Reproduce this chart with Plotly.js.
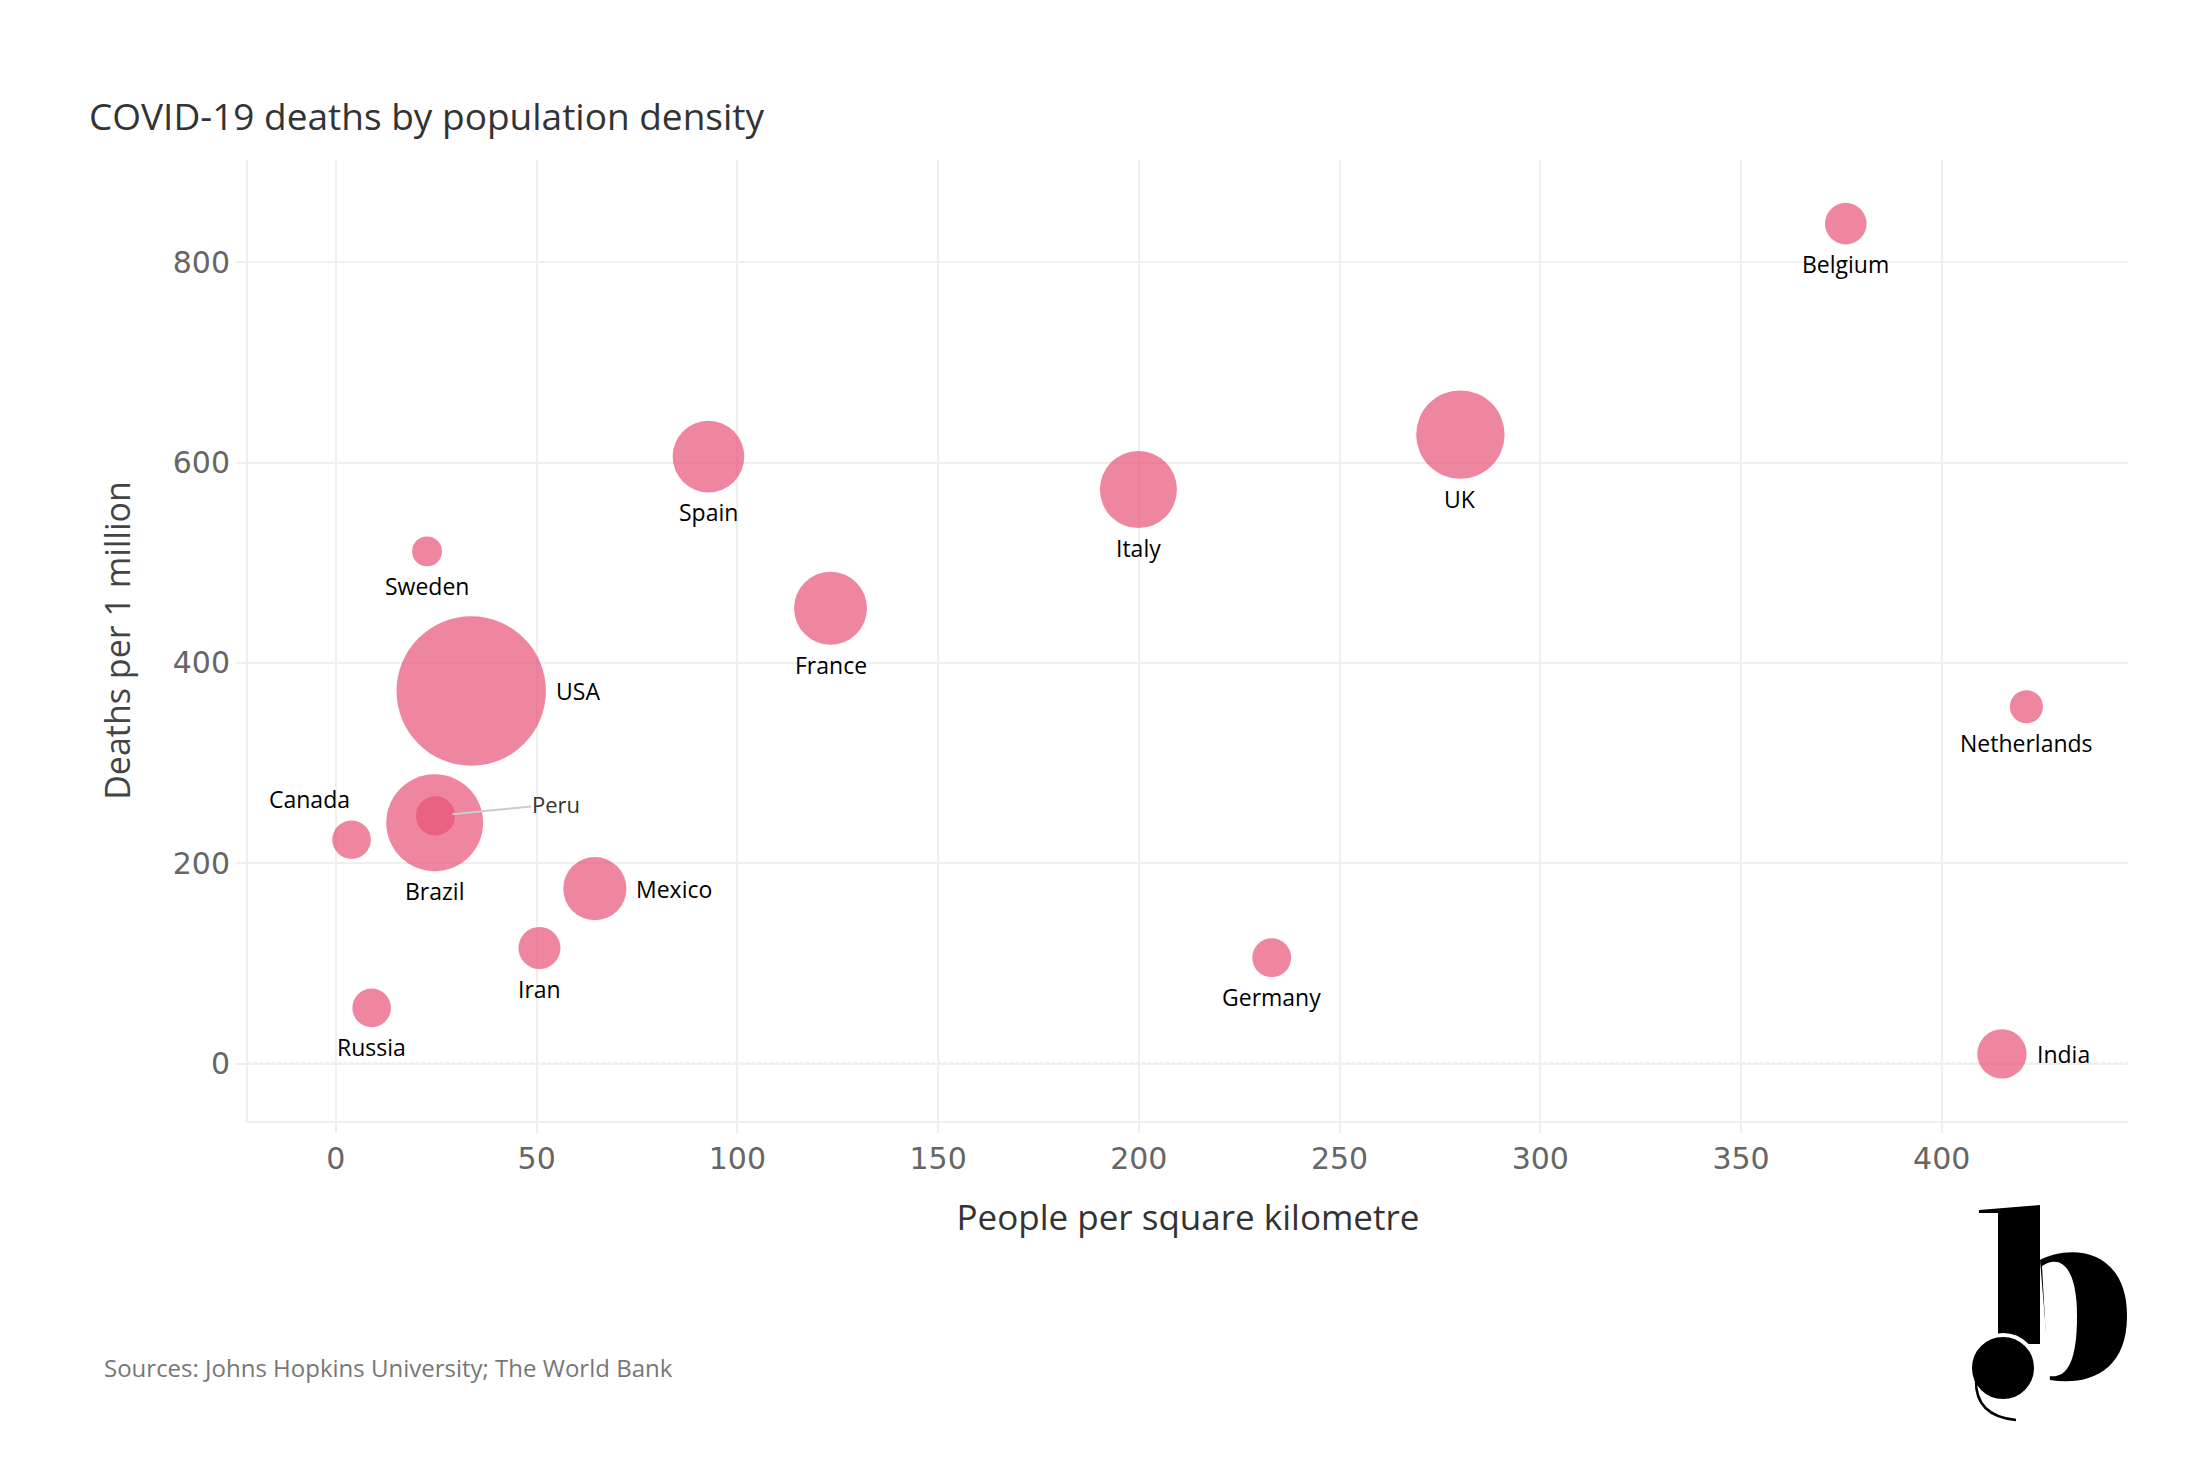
<!DOCTYPE html>
<html>
<head>
<meta charset="utf-8">
<script src="https://cdn.plot.ly/plotly-3.0.1.min.js"></script>
<style>html,body{margin:0;padding:0;background:#fff;}#chart{width:2208px;height:1472px;}</style>
</head>
<body>
<div id="chart"></div>
<script>
// ---- data ----
const countries = ['USA','Brazil','UK','Italy','France','Spain','Mexico','India','Iran','Belgium','Peru','Germany','Canada','Russia','Netherlands','Sweden'];
const density = [33.7, 24.6, 280.1, 199.9, 123.2, 92.8, 64.5, 415.0, 50.7, 376.1, 24.8, 233.1, 3.9, 8.9, 421.1, 22.7];
const deathsPerMillion = [371.9, 240.4, 627.9, 573.0, 454.5, 605.9, 174.7, 9.7, 115.4, 838.5, 247.3, 105.7, 223.5, 55.6, 356.2, 511.3];
const totalDeaths = [120000, 50400, 42000, 31900, 28600, 27600, 21500, 13100, 9500, 9300, 8300, 8100, 8000, 8000, 5900, 4800];
const labelSide = ['right','below','below','below','below','below','right','right','below','below','leader','below','aboveLeft','below','below','below'];
const xTicks = [0, 50, 100, 150, 200, 250, 300, 350, 400];
const yTicks = [0, 200, 400, 600, 800];

// ---- styling ----
const SIZEREF = 10.75;
const radius = v => Math.sqrt(v / 2 / SIZEREF);
const labelFont = {family: 'Open Sans, sans-serif', size: 23, color: '#000'};

const trace = {
  type: 'scatter', mode: 'markers',
  x: density, y: deathsPerMillion, text: countries,
  marker: {size: totalDeaths, sizemode: 'area', sizeref: SIZEREF,
           color: 'rgb(232,82,118)', opacity: 0.7, line: {width: 0}},
  hoverinfo: 'text', showlegend: false
};

const annotations = countries.map((c, i) => {
  const r = radius(totalDeaths[i]);
  const base = {x: density[i], y: deathsPerMillion[i], xref: 'x', yref: 'y', text: c,
                showarrow: false, font: labelFont};
  if (labelSide[i] === 'below') return Object.assign(base, {xanchor: 'center', yanchor: 'top', yshift: -(r + 2)});
  if (labelSide[i] === 'right') return Object.assign(base, {xanchor: 'left', yanchor: 'middle', xshift: r + 8});
  if (labelSide[i] === 'aboveLeft') return Object.assign(base, {xanchor: 'right', yanchor: 'bottom', xshift: 0, yshift: r + 3});
  return Object.assign(base, {showarrow: true, arrowhead: 0, arrowwidth: 2, arrowcolor: '#cccccc',
                              ax: 121, ay: -12, standoff: 17,
                              font: {family: 'Open Sans, sans-serif', size: 22, color: '#333'}});
});

annotations.push({
  xref: 'paper', yref: 'paper', x: -0.0777, y: -0.256, xanchor: 'left', yanchor: 'middle',
  text: 'Sources: Johns Hopkins University; The World Bank', showarrow: false,
  font: {family: 'Open Sans, sans-serif', size: 24, color: '#777'}
});

const logoSvg = "<svg xmlns='http://www.w3.org/2000/svg' viewBox='0 0 160 220' width='160' height='220'>" +
  "<path d='M70,56 C100,40 157,44 157,112 C157,168 118,182 80,176 Z' fill='#000'/>" +
  "<path d='M72,62 C90,50 107,62 107,112 C107,160 96,175 78,172 Z' fill='#fff'/>" +
  "<path d='M9,6 L70,1 L70,140 L28,140 L28,9 L9,9 Z' fill='#000'/>" +
  "<circle cx='33' cy='164' r='33' fill='#000' stroke='#fff' stroke-width='4'/>" +
  "<path d='M6,176 Q5,212 46,216' fill='none' stroke='#000' stroke-width='2.5'/>" +
  "</svg>";

const axisCommon = {
  showgrid: true, gridcolor: '#efefef', gridwidth: 2,
  zeroline: false, showline: true, linecolor: '#eeeeee', linewidth: 2,
  ticks: 'outside', ticklen: 10, tickcolor: '#eeeeee', tickwidth: 2,
  tickfont: {family: 'DejaVu Sans, sans-serif', size: 30, color: '#666'},
  tickmode: 'array'
};

const layout = {
  width: 2208, height: 1472,
  margin: {l: 248, r: 80, t: 160, b: 351},
  paper_bgcolor: '#fff', plot_bgcolor: '#fff',
  title: {text: 'COVID-19 deaths by population density', x: 0.0403, xref: 'container', xanchor: 'left',
          y: 1 - 117 / 1472, yref: 'container', yanchor: 'middle',
          font: {family: 'Open Sans, sans-serif', size: 37, color: '#333'}},
  xaxis: Object.assign({}, axisCommon, {
    range: [-21.9, 446.4], tickvals: xTicks, ticktext: xTicks.map(String),
    title: {text: 'People per square kilometre', standoff: 30,
            font: {family: 'Open Sans, sans-serif', size: 35, color: '#333'}}
  }),
  yaxis: Object.assign({}, axisCommon, {
    range: [-57.3, 902], tickvals: yTicks, ticktext: yTicks.map(String),
    title: {text: 'Deaths per 1 million', standoff: 32,
            font: {family: 'Open Sans, sans-serif', size: 34, color: '#444'}}
  }),
  shapes: [
    {type: 'line', xref: 'x', yref: 'paper', x0: 0, x1: 0, y0: 0, y1: 1,
     line: {color: '#bbbbbb', width: 1.5, dash: 'dot'}, layer: 'below'},
    {type: 'line', xref: 'paper', yref: 'y', x0: 0, x1: 1, y0: 0, y1: 0,
     line: {color: '#bbbbbb', width: 1.5, dash: 'dot'}, layer: 'below'}
  ],
  annotations: annotations,
  images: [{
    source: 'data:image/svg+xml;charset=utf-8,' + encodeURIComponent(logoSvg),
    xref: 'paper', yref: 'paper', x: 0.91596, y: -0.08637, sizex: 0.085106, sizey: 0.22893,
    xanchor: 'left', yanchor: 'top', sizing: 'stretch', layer: 'above'
  }]
};

Plotly.newPlot('chart', [trace], layout, {displayModeBar: false, staticPlot: true});
</script>
</body>
</html>
